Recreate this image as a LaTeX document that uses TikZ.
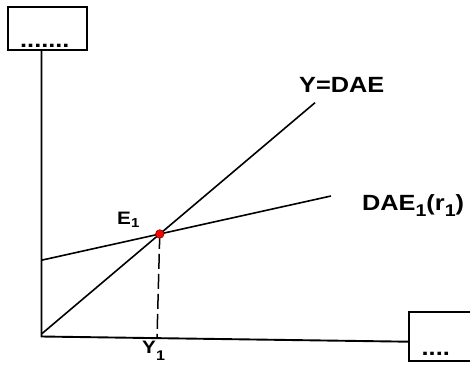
\documentclass[tikz,border=0pt]{standalone}
\usepackage{fontspec}
\setmainfont{Liberation Sans}[FakeStretch=1.15]
\newcommand\subb[3]{\raisebox{-#2pt}{\fontsize{#1}{#1}\selectfont #3}}
\begin{document}
\begin{tikzpicture}[x=1pt,y=-1pt,
  axis/.style={line width=1.9pt, black},
  curve/.style={line width=1.6pt, black},
  boxx/.style={draw, line width=2pt, inner sep=0pt},
  lab/.style={font=\fontsize{22}{22}\selectfont\bfseries, inner sep=0pt, anchor=base west},
  slab/.style={font=\fontsize{18}{18}\selectfont\bfseries, inner sep=0pt, anchor=base west}]
\useasboundingbox (0,0) rectangle (470,364);
\clip (0,0) rectangle (470,364);
% boxes
\node[boxx, minimum width=79pt, minimum height=43pt] (ybox) at (47.5,28.5) {};
\node[lab] (ydots) at (20,47.7) {.......};
\node[boxx, minimum width=71pt, minimum height=49pt] (xbox) at (444.5,336.5) {};
\node[lab] (xdots) at (421.5,355.7) {....};
% axes
\coordinate (O) at (41.5,336.5);
\coordinate (X) at (409.3,341.7);
\draw[axis] (O |- ybox.south) -- (O) -- (X);
% lines
\coordinate (A0) at (41.5,334);
\coordinate (A1) at (315,102.7);
\coordinate (B0) at (41.5,260.2);
\coordinate (B1) at (331,196);
\draw[curve] (A0) -- (A1);
\draw[curve] (B0) -- (B1);
\coordinate (E) at (intersection of A0--A1 and B0--B1);
\coordinate (F) at (157,338);
\draw[line width=1.5pt, dash pattern=on 15pt off 5pt] (E) -- (F);
\node[circle, fill=red, draw=red!50!black, line width=0.6pt, minimum size=8.5pt, inner sep=0pt] (dot) at (E) {};
% labels
\node[lab] (lyd) at (299,92) {Y=DAE};
\node[lab] (ldae) at (362,210) {DAE\subb{17}{6}{1}(r\subb{17}{6}{1})};
\node[slab] (le) at (117,224.5) {E\subb{13}{3}{1}};
\node[slab] (ly) at (142,353) {Y\subb{14}{7}{1}};
\end{tikzpicture}
\end{document}
